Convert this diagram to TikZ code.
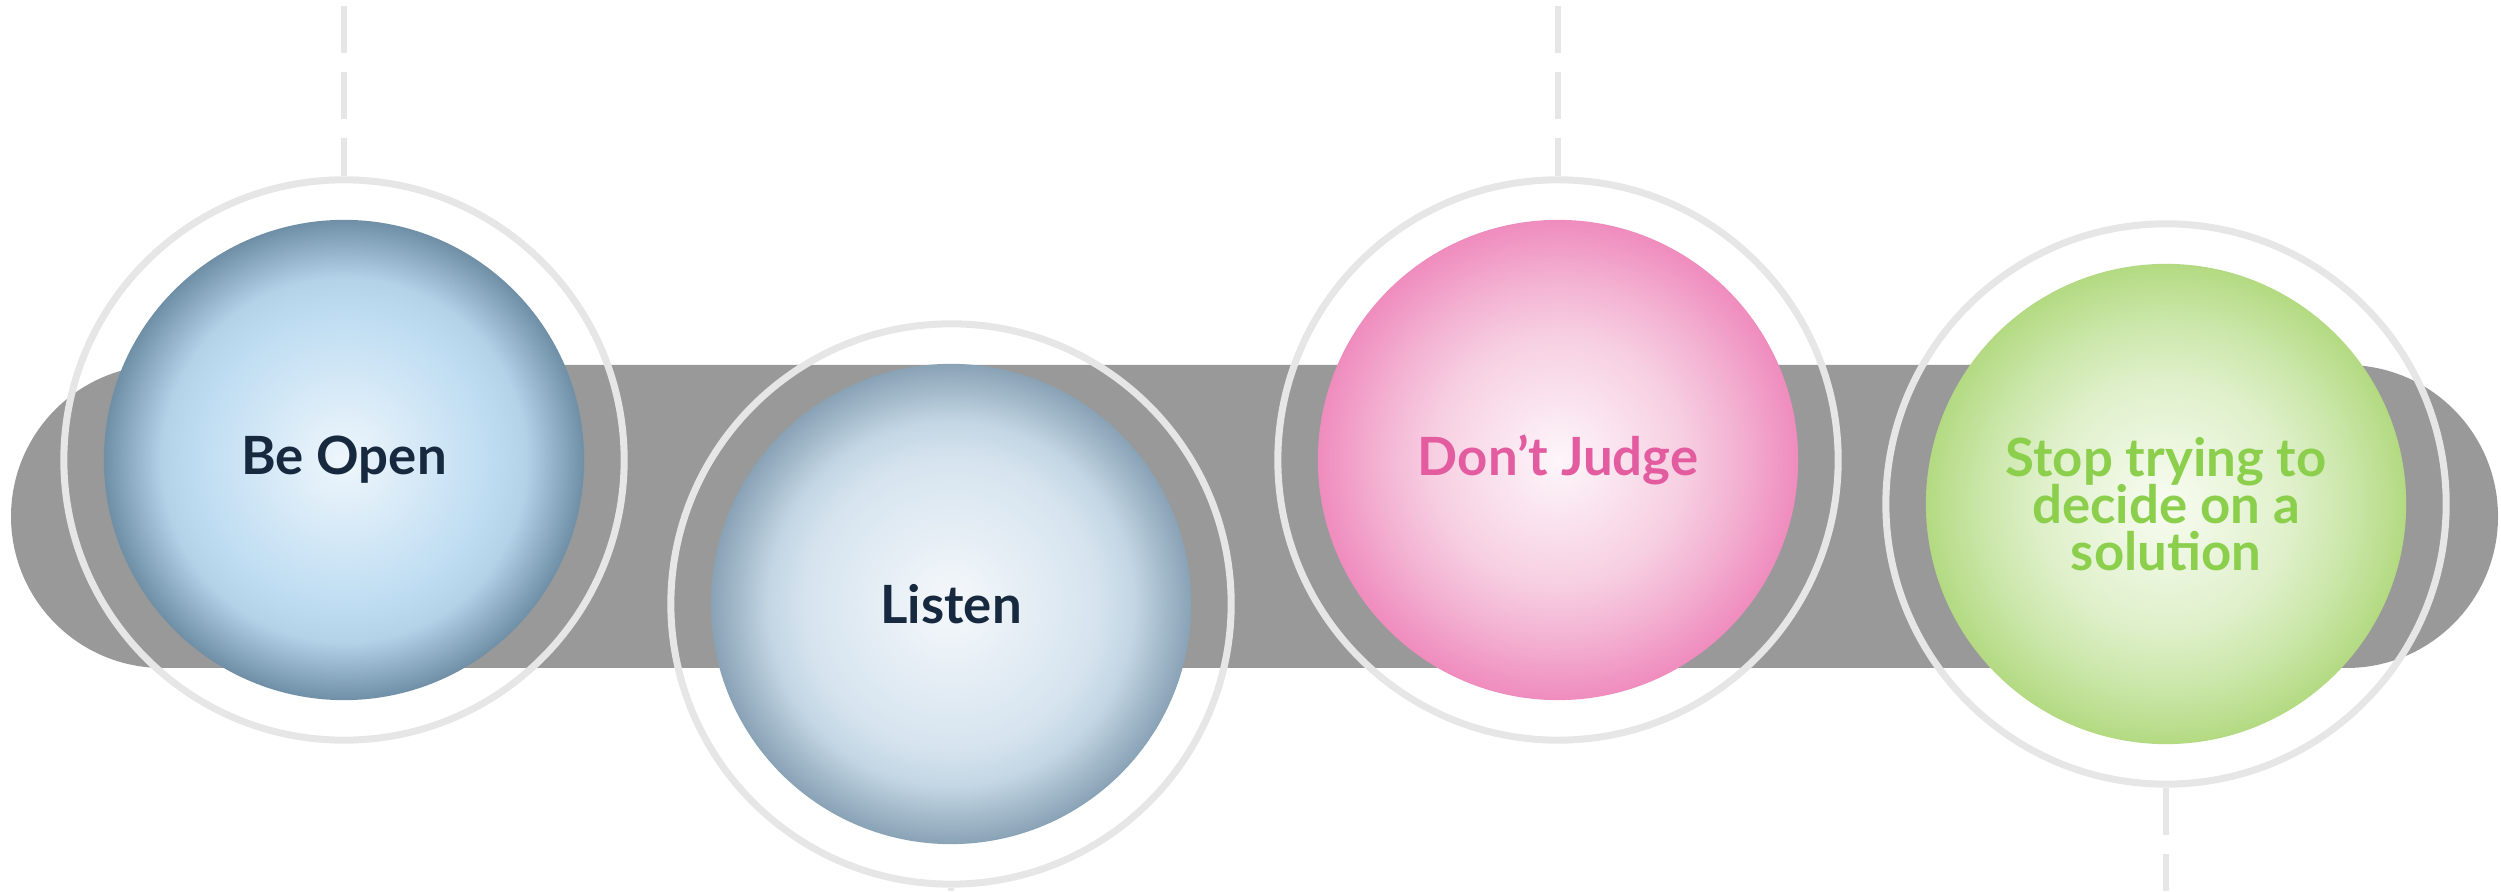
\documentclass[tikz,border=0pt]{standalone}
\usepackage{fontspec}
\setmainfont{Lato}
\usetikzlibrary{positioning}
\definecolor{bargray}{HTML}{999999}
\definecolor{ringgray}{HTML}{E6E6E6}
\definecolor{openA}{HTML}{EEF6FC}
\definecolor{openB}{HTML}{BFDDF2}
\definecolor{openC}{HTML}{B3D2E8}
\definecolor{openD}{HTML}{6F8FA7}
\definecolor{listenA}{HTML}{F5F8FB}
\definecolor{listenB}{HTML}{D6E4EF}
\definecolor{listenC}{HTML}{C3D6E4}
\definecolor{listenD}{HTML}{89A2B5}
\definecolor{judgeA}{HTML}{FDF6FA}
\definecolor{judgeB}{HTML}{F7CFE2}
\definecolor{judgeC}{HTML}{F3B0D1}
\definecolor{judgeD}{HTML}{EF8CBE}
\definecolor{stopA}{HTML}{F8FCF2}
\definecolor{stopB}{HTML}{DFF0CA}
\definecolor{stopC}{HTML}{CBE7AA}
\definecolor{stopD}{HTML}{B3DA82}
\definecolor{navytext}{HTML}{16293E}
\definecolor{pinktext}{HTML}{E35CA0}
\definecolor{greentext}{HTML}{8CCF4C}
\pgfdeclareradialshading{opendome}{\pgfpointorigin}{color(0bp)=(openA); color(15bp)=(openB); color(19bp)=(openC); color(25bp)=(openD); color(50bp)=(openD)}
\pgfdeclareradialshading{listendome}{\pgfpointorigin}{color(0bp)=(listenA); color(15bp)=(listenB); color(19bp)=(listenC); color(25bp)=(listenD); color(50bp)=(listenD)}
\pgfdeclareradialshading{judgedome}{\pgfpointorigin}{color(0bp)=(judgeA); color(13bp)=(judgeB); color(19bp)=(judgeC); color(25bp)=(judgeD); color(50bp)=(judgeD)}
\pgfdeclareradialshading{stopdome}{\pgfpointorigin}{color(0bp)=(stopA); color(13bp)=(stopB); color(19bp)=(stopC); color(25bp)=(stopD); color(50bp)=(stopD)}
\newcommand{\domefont}{\fontsize{15}{13.3}\selectfont\bfseries\lineskiplimit=-20pt\relax}
\tikzset{
bar/.style={fill=bargray,rounded corners=1.515cm},
ring/.style={circle,draw=ringgray,line width=2pt,minimum size=5.6cm,inner sep=0pt},
dome/.style={circle,shade,minimum size=4.8cm,inner sep=0pt,align=center,font=\domefont},
guide/.style={draw=ringgray,line width=1.5pt,dash pattern=on 13.4pt off 5.4pt},
guidetop/.style={guide,dash phase=17.1pt}
}

\begin{document}
\begin{tikzpicture}[x=0.01cm,y=0.01cm]
\useasboundingbox (0,0) rectangle (2501,891);
\fill[bar] (11,223) rectangle (2498,526);
% the four steps
\node[dome,shading=opendome,text=navytext] (open) at (344,431) {Be Open};
\node[dome,shading=listendome,text=navytext] (listen) at (951,287) {Listen};
\node[dome,shading=judgedome,text=pinktext] (judge) at (1558,431) {Don’t Judge};
\node[dome,shading=stopdome,text=greentext] (stop) at (2166,387) {Stop trying to\\decide on a\\solution};
\node[ring] (openring) at (open) {};
\node[ring] (listenring) at (listen) {};
\node[ring] (judgering) at (judge) {};
\node[ring] (stopring) at (stop) {};
% guide lines
\coordinate (opentop) at (344,891);
\coordinate (judgetop) at (1558,891);
\coordinate (listenbot) at (951,0);
\coordinate (stopbot) at (2166,0);
\draw[guidetop] (opentop) -- (openring.north);
\draw[guidetop] (judgetop) -- (judgering.north);
\draw[guide] (listenring.south) -- (listenbot);
\draw[guide] (stopring.south) -- (stopbot);
\end{tikzpicture}
\end{document}
